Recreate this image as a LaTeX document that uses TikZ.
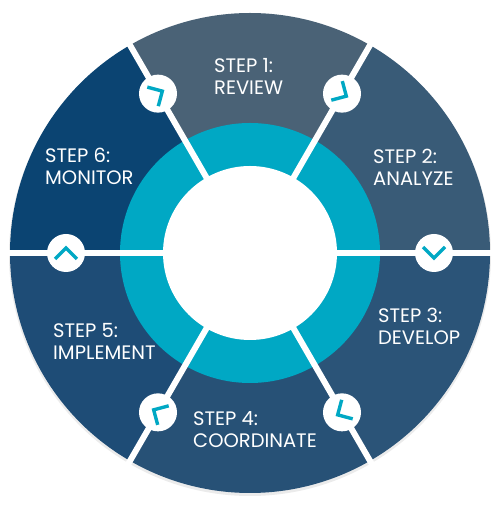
\documentclass[tikz,border=0pt]{standalone}
\usepackage{fontspec}
\setmainfont{Poppins}
\definecolor{segA}{HTML}{4A6276}
\definecolor{segB}{HTML}{395B77}
\definecolor{segC}{HTML}{2B5478}
\definecolor{segD}{HTML}{275176}
\definecolor{segE}{HTML}{1E4C76}
\definecolor{segF}{HTML}{0B4472}
\definecolor{ring}{HTML}{00A8C4}
\begin{document}
\begin{tikzpicture}
		[x=1pt,y=1pt,
		seg/.style={fill=#1},
		sep/.style={draw=white,line width=6pt},
		knob/.style={circle,fill=white,minimum size=38pt,inner sep=0pt},
		chev/.style={draw=ring,line width=3.4pt},
		lbl/.style={text=white,align=left,anchor=west,inner sep=0pt,font=\fontsize{19.5}{22}\selectfont}]
		\useasboundingbox (0,0) rectangle (500,505);
		\coordinate (c) at (250,252);
		\fill[black,opacity=0.08] (250,250) circle[radius=241];
		\fill[seg=segA] (c) -- ++(60:240) arc[start angle=60,end angle=120,radius=240] -- cycle;
		\fill[seg=segB] (c) -- ++(0:240) arc[start angle=0,end angle=60,radius=240] -- cycle;
		\fill[seg=segC] (c) -- ++(-60:240) arc[start angle=-60,end angle=0,radius=240] -- cycle;
		\fill[seg=segD] (c) -- ++(-120:240) arc[start angle=-120,end angle=-60,radius=240] -- cycle;
		\fill[seg=segE] (c) -- ++(180:240) arc[start angle=180,end angle=240,radius=240] -- cycle;
		\fill[seg=segF] (c) -- ++(120:240) arc[start angle=120,end angle=180,radius=240] -- cycle;
		\fill[ring] (c) circle[radius=130];
		\fill[white] (c) circle[radius=87];
		\foreach \a in {0,60,...,300}
			\draw[sep] ([shift={(\a:80)}]c) -- ([shift={(\a:246)}]c);
		\node[knob,name=k1] at ([shift={(120:184)}]c) {};
		\node[knob,name=k2] at ([shift={(60:184)}]c) {};
		\node[knob,name=k3] at ([shift={(0:184)}]c) {};
		\node[knob,name=k4] at ([shift={(-60:184)}]c) {};
		\node[knob,name=k5] at ([shift={(-120:184)}]c) {};
		\node[knob,name=k6] at ([shift={(180:184)}]c) {};
		\draw[chev,shift={(k1.center)},rotate=30] (-6,11) -- (5,0) -- (-6,-11);
		\draw[chev,shift={(k2.center)},rotate=-30] (-6,11) -- (5,0) -- (-6,-11);
		\draw[chev,shift={(k3.center)},rotate=-90] (-6,11) -- (5,0) -- (-6,-11);
		\draw[chev,shift={(k4.center)},rotate=-150] (-6,11) -- (5,0) -- (-6,-11);
		\draw[chev,shift={(k5.center)},rotate=150] (-6,11) -- (5,0) -- (-6,-11);
		\draw[chev,shift={(k6.center)},rotate=90] (-6,11) -- (5,0) -- (-6,-11);
		\node[lbl,name=s1] at (214,428.5) {STEP 1:\\REVIEW};
		\node[lbl,name=s2] at (373,337.5) {STEP 2:\\ANALYZE};
		\node[lbl,name=s3] at (378,178.5) {STEP 3:\\DEVELOP};
		\node[lbl,name=s4] at (193,75.5) {STEP 4:\\COORDINATE};
		\node[lbl,name=s5] at (53,164) {STEP 5:\\IMPLEMENT};
		\node[lbl,name=s6] at (45,339) {STEP 6:\\MONITOR};
	\end{tikzpicture}
\end{document}
